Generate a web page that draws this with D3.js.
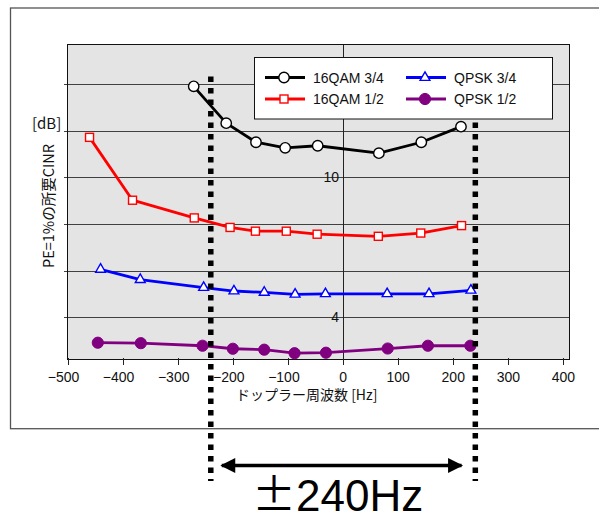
<!DOCTYPE html>
<html>
<head>
<meta charset="utf-8">
<script src="https://cdn.jsdelivr.net/npm/d3@7"></script>
<style>
  html, body { margin: 0; padding: 0; background: #fff; }
  svg { display: block; }
</style>
</head>
<body>
<svg id="chart" width="599" height="525"></svg>
<script>
// ---------------- DATA ----------------
const xTicks = [-500, -400, -300, -200, -100, 0, 100, 200, 300, 400];
const yGrid = [4, 6, 8, 10, 12, 14];
const yLabels = [10, 4];

const qam34X = [-271, -212, -158, -105, -46, 65, 142, 214];
const qam34Y = [13.91, 12.33, 11.51, 11.27, 11.36, 11.04, 11.51, 12.18];

const qam12X = [-460, -382, -270, -205, -159, -103, -47, 64, 141, 215];
const qam12Y = [11.72, 9.02, 8.26, 7.85, 7.69, 7.69, 7.56, 7.47, 7.61, 7.93];

const qpsk34X = [-440, -368, -253, -198, -143, -87, -32, 80, 156, 232];
const qpsk34Y = [6.05, 5.61, 5.27, 5.12, 5.06, 4.98, 5.00, 5.00, 5.00, 5.15];

const qpsk12X = [-445, -367, -255, -200, -143, -88, -31, 81, 154, 231];
const qpsk12Y = [2.90, 2.88, 2.77, 2.64, 2.60, 2.45, 2.47, 2.65, 2.77, 2.77];

const seriesNames = ["16QAM 3/4", "16QAM 1/2", "QPSK 3/4", "QPSK 1/2"];
const dopplerLimits = [-240, 240];
const arrowRange = [-220, 215];
const annotationText = "240Hz";
const xTitle = "ドップラー周波数 [Hz]";
const yTitle = "PE=1%の所要CINR";
const yUnit = "[dB]";

// ---------------- LAYOUT ----------------
const svg = d3.select("#chart");
const plot = { left: 67, right: 569, top: 44, bottom: 359 };
const x = d3.scaleLinear().domain([-500, 410]).range([67.5, 569]);
const y = d3.scaleLinear().domain([2.2, 15.73]).range([359, 44]);

const fontLat = "Arial, 'Liberation Sans', sans-serif";
const fontJP = "'Noto Sans CJK JP', sans-serif";

// outer frame
svg.append("rect")
  .attr("x", 10.5).attr("y", 8).attr("width", 620).attr("height", 420.7)
  .attr("fill", "none").attr("stroke", "#555").attr("stroke-width", 1.3);

// plot background
svg.append("rect")
  .attr("x", plot.left).attr("y", plot.top)
  .attr("width", plot.right - plot.left).attr("height", plot.bottom - plot.top)
  .attr("fill", "#e4e4e4");

// horizontal grid lines (with small outward ticks)
svg.append("g").selectAll("line").data(yGrid).join("line")
  .attr("x1", plot.left - 3).attr("x2", plot.right)
  .attr("y1", d => Math.round(y(d)) + 0.5).attr("y2", d => Math.round(y(d)) + 0.5)
  .attr("stroke", "#404040").attr("stroke-width", 1);

// x = 0 vertical line
svg.append("line")
  .attr("x1", Math.round(x(0)) + 0.5).attr("x2", Math.round(x(0)) + 0.5)
  .attr("y1", plot.top).attr("y2", plot.bottom)
  .attr("stroke", "#222").attr("stroke-width", 1);

// plot border
svg.append("rect")
  .attr("x", plot.left + 0.5).attr("y", plot.top + 0.5)
  .attr("width", plot.right - plot.left).attr("height", plot.bottom - plot.top)
  .attr("fill", "none").attr("stroke", "#111").attr("stroke-width", 1);

// x ticks
svg.append("g").selectAll("line").data(xTicks).join("line")
  .attr("x1", d => Math.round(x(d)) + 0.5).attr("x2", d => Math.round(x(d)) + 0.5)
  .attr("y1", plot.bottom - 1).attr("y2", plot.bottom + 6)
  .attr("stroke", "#222").attr("stroke-width", 1);

// x tick labels (minus sign hangs to the left of the centred number)
svg.append("g").selectAll("text").data(xTicks).join("text")
  .attr("x", d => x(d) + (d < 0 ? -4 : 0))
  .attr("y", 381.5)
  .attr("text-anchor", "middle")
  .attr("font-family", fontLat).attr("font-size", 14).attr("fill", "#111")
  .text(d => d < 0 ? "\u2212" + Math.abs(d) : String(d));

// y labels next to the x=0 axis
svg.append("g").selectAll("text").data(yLabels).join("text")
  .attr("x", x(0) - 4).attr("y", d => y(d) + 5)
  .attr("text-anchor", "end")
  .attr("font-family", fontLat).attr("font-size", 14).attr("fill", "#111")
  .text(d => d);

// axis titles
svg.append("text")
  .attr("x", 236).attr("y", 400)
  .attr("font-family", fontJP).attr("font-size", 14).attr("fill", "#111")
  .text(xTitle);

svg.append("text")
  .attr("transform", "translate(54,268) rotate(-90)")
  .attr("font-family", fontJP).attr("font-size", 14.5).attr("fill", "#111")
  .text(yTitle);

svg.append("text")
  .attr("x", 32).attr("y", 129)
  .attr("font-family", fontJP).attr("font-size", 15).attr("fill", "#111")
  .text(yUnit);

// ---------------- SERIES ----------------
const series = [
  { name: seriesNames[0], xs: qam34X, ys: qam34Y, color: "#000000", marker: "circle", fill: "#fff" },
  { name: seriesNames[1], xs: qam12X, ys: qam12Y, color: "#ff0000", marker: "square", fill: "#fff" },
  { name: seriesNames[2], xs: qpsk34X, ys: qpsk34Y, color: "#0000ff", marker: "triangle", fill: "#fff" },
  { name: seriesNames[3], xs: qpsk12X, ys: qpsk12Y, color: "#800080", marker: "dot", fill: "#800080" }
];

const line = d3.line().x(d => x(d[0])).y(d => y(d[1]));

function drawMarker(g, m, color, fill) {
  if (m === "circle") {
    g.append("circle").attr("r", 5.2).attr("fill", fill).attr("stroke", color).attr("stroke-width", 1.4);
  } else if (m === "square") {
    g.append("rect").attr("x", -4).attr("y", -4).attr("width", 8).attr("height", 8)
      .attr("fill", fill).attr("stroke", color).attr("stroke-width", 1.4);
  } else if (m === "triangle") {
    g.append("path").attr("d", d3.symbol().type(d3.symbolTriangle).size(42)())
      .attr("fill", fill).attr("stroke", color).attr("stroke-width", 1.4);
  } else {
    g.append("circle").attr("r", 5.6).attr("fill", fill).attr("stroke", color).attr("stroke-width", 1);
  }
}

series.forEach(s => {
  const pts = s.xs.map((v, i) => [v, s.ys[i]]);
  svg.append("path").datum(pts)
    .attr("d", line).attr("fill", "none")
    .attr("stroke", s.color).attr("stroke-width", 2.8).attr("stroke-linejoin", "round");
});
series.forEach(s => {
  const pts = s.xs.map((v, i) => [v, s.ys[i]]);
  pts.forEach(p => {
    const g = svg.append("g").attr("transform", `translate(${x(p[0])},${y(p[1])})`);
    drawMarker(g, s.marker, s.color, s.fill);
  });
});

// ---------------- ±240 Hz markers ----------------
svg.append("g").selectAll("line").data(dopplerLimits).join("line")
  .attr("x1", d => x(d)).attr("x2", d => x(d))
  .attr("y1", 76.5).attr("y2", 481)
  .attr("stroke", "#000").attr("stroke-width", 5.5)
  .attr("stroke-dasharray", "5.5 6");

// ---------------- LEGEND ----------------
const leg = svg.append("g");
leg.append("rect")
  .attr("x", 254.5).attr("y", 57.5).attr("width", 298).attr("height", 61.5)
  .attr("fill", "#fff").attr("stroke", "#111").attr("stroke-width", 1);
const legPos = [
  { lx: 265, ly: 77.5 }, { lx: 265, ly: 99 },
  { lx: 406, ly: 77.5 }, { lx: 406, ly: 99 }
];
series.forEach((s, i) => {
  const p = legPos[i];
  leg.append("line").attr("x1", p.lx).attr("x2", p.lx + 40)
    .attr("y1", p.ly).attr("y2", p.ly)
    .attr("stroke", s.color).attr("stroke-width", 2.8);
  const g = leg.append("g").attr("transform", `translate(${p.lx + 19},${p.ly})`);
  drawMarker(g, s.marker, s.color, s.fill);
  leg.append("text").attr("x", p.lx + 48).attr("y", p.ly + 5)
    .attr("font-family", fontLat).attr("font-size", 14).attr("fill", "#111")
    .text(s.name);
});

// ---------------- ARROW + ANNOTATION ----------------
const defs = svg.append("defs");
defs.append("marker").attr("id", "ah").attr("viewBox", "0 0 10 10")
  .attr("refX", 9).attr("refY", 5).attr("markerWidth", 5).attr("markerHeight", 4.4)
  .attr("markerUnits", "strokeWidth").attr("orient", "auto-start-reverse")
  .append("path").attr("d", "M0,0 L10,5 L0,10 Z").attr("fill", "#000");

svg.append("line")
  .attr("x1", x(arrowRange[0])).attr("x2", x(arrowRange[1]))
  .attr("y1", 465.5).attr("y2", 465.5)
  .attr("stroke", "#000").attr("stroke-width", 3.4)
  .attr("marker-start", "url(#ah)").attr("marker-end", "url(#ah)");

const ann = svg.append("text")
  .attr("x", 252).attr("y", 511)
  .attr("font-size", 44).attr("fill", "#000");
ann.append("tspan").attr("font-family", fontJP).text("\u00b1");
ann.append("tspan").attr("font-family", fontLat).text(annotationText);
</script>
</body>
</html>
